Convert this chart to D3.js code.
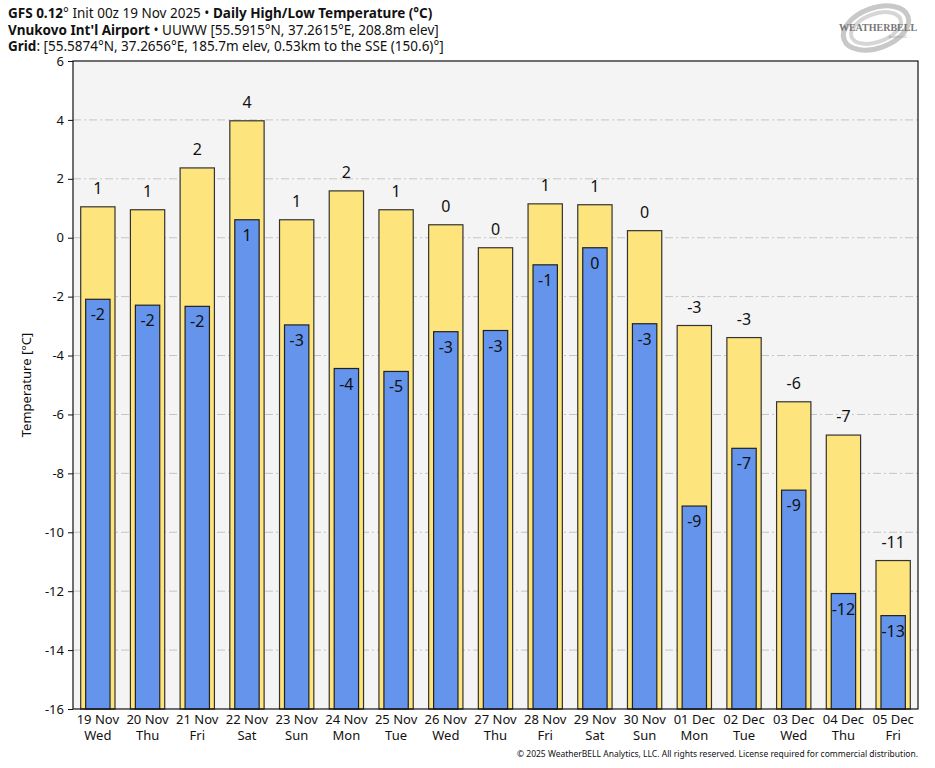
<!DOCTYPE html>
<html>
<head>
<meta charset="utf-8">
<script src="https://cdn.jsdelivr.net/npm/d3@7"></script>
<style>
  body { margin: 0; background: #fff; }
  text { font-family: "Noto Sans", "Open Sans", sans-serif; fill: #111; }
</style>
</head>
<body>
<div id="chart"></div>
<script>
// chart data
const dates = ['19 Nov', '20 Nov', '21 Nov', '22 Nov', '23 Nov', '24 Nov', '25 Nov', '26 Nov', '27 Nov',
  '28 Nov', '29 Nov', '30 Nov', '01 Dec', '02 Dec', '03 Dec', '04 Dec', '05 Dec'];
const weekdays = ['Wed', 'Thu', 'Fri', 'Sat', 'Sun', 'Mon', 'Tue', 'Wed', 'Thu',
  'Fri', 'Sat', 'Sun', 'Mon', 'Tue', 'Wed', 'Thu', 'Fri'];
const highs = [1.05, 0.95, 2.37, 3.97, 0.61, 1.59, 0.95, 0.44, -0.34,
  1.15, 1.12, 0.24, -2.98, -3.39, -5.57, -6.70, -10.96];
const lows = [-2.09, -2.29, -2.33, 0.61, -2.96, -4.44, -4.54, -3.19, -3.15,
  -0.92, -0.34, -2.92, -9.11, -7.15, -8.57, -12.08, -12.83];
const yTicks = [-16, -14, -12, -10, -8, -6, -4, -2, 0, 2, 4, 6];

const W = 935, H = 768;
const margin = { top: 61, right: 17, bottom: 59, left: 73 };
const width = W - margin.left - margin.right;
const height = H - margin.top - margin.bottom;

const svg = d3.select('#chart')
  .append('svg')
  .attr('width', W)
  .attr('height', H);

// title block
const title = svg.append('g').attr('transform', 'translate(8,0)');
const l1 = title.append('text').attr('y', 18).style('font-size', '13.5px');
l1.append('tspan').style('font-weight', 'bold').text('GFS 0.12');
l1.append('tspan').text('° Init 00z 19 Nov 2025 • ');
l1.append('tspan').style('font-weight', 'bold').text('Daily High/Low Temperature (°C)');
const l2 = title.append('text').attr('y', 35).style('font-size', '13.5px');
l2.append('tspan').style('font-weight', 'bold').text("Vnukovo Int'l Airport");
l2.append('tspan').text(' • UUWW [55.5915°N, 37.2615°E, 208.8m elev]');
const l3 = title.append('text').attr('y', 51).style('font-size', '13.5px');
l3.append('tspan').style('font-weight', 'bold').text('Grid');
l3.append('tspan').text(': [55.5874°N, 37.2656°E, 185.7m elev, 0.53km to the SSE (150.6)°]');

// logo (rough)
const logo = svg.append('g').attr('transform', 'translate(876,28)');
logo.append('ellipse').attr('rx', 34).attr('ry', 20).attr('fill', 'none')
  .attr('stroke', '#c8c8c8').attr('stroke-width', 5).attr('transform', 'rotate(-20)');
logo.append('ellipse').attr('rx', 26).attr('ry', 14).attr('fill', 'none')
  .attr('stroke', '#d6d6d6').attr('stroke-width', 4).attr('transform', 'rotate(-20)');
logo.append('text').attr('x', 2).attr('y', 3).attr('text-anchor', 'middle')
  .style('font-family', '"Liberation Serif", serif').style('font-size', '10px')
  .style('font-weight', 'bold').style('fill', '#777').text('WEATHERBELL');
logo.append('text').attr('x', 22).attr('y', 10).attr('text-anchor', 'middle')
  .style('font-size', '3px').style('fill', '#999').text('Analytics LLC');

const g = svg.append('g')
  .attr('transform', `translate(${margin.left},${margin.top})`);

const x = d3.scaleBand()
  .domain(dates)
  .range([0, width])
  .padding(0);

const y = d3.scaleLinear()
  .domain([-16, 6])
  .range([height, 0]);

// plot background
g.append('rect')
  .attr('width', width)
  .attr('height', height)
  .attr('fill', '#f4f4f4');

// grid lines
g.append('g')
  .selectAll('line')
  .data(yTicks.filter(t => t > -16 && t < 6))
  .join('line')
  .attr('x1', 0)
  .attr('x2', width)
  .attr('y1', d => y(d))
  .attr('y2', d => y(d))
  .attr('stroke', '#c4c4c4')
  .attr('stroke-width', 1)
  .attr('stroke-dasharray', '8,3,2,3');

const hiW = x.bandwidth() * 0.69;
const loW = x.bandwidth() * 0.49;

// highs (yellow)
g.append('g')
  .selectAll('rect')
  .data(highs)
  .join('rect')
  .attr('x', (d, i) => x(dates[i]) + (x.bandwidth() - hiW) / 2)
  .attr('y', d => y(d))
  .attr('width', hiW)
  .attr('height', d => y(-16) - y(d))
  .attr('fill', '#fee47c')
  .attr('stroke', '#333')
  .attr('stroke-width', 1.2);

// lows (blue)
g.append('g')
  .selectAll('rect')
  .data(lows)
  .join('rect')
  .attr('x', (d, i) => x(dates[i]) + (x.bandwidth() - loW) / 2)
  .attr('y', d => y(d))
  .attr('width', loW)
  .attr('height', d => y(-16) - y(d))
  .attr('fill', '#6494ec')
  .attr('stroke', '#222')
  .attr('stroke-width', 1.2);

const fmt = v => String(Math.round(v) === 0 ? 0 : Math.round(v));

// high labels
g.append('g')
  .selectAll('text')
  .data(highs)
  .join('text')
  .attr('x', (d, i) => x(dates[i]) + x.bandwidth() / 2)
  .attr('y', d => y(d) - 13)
  .attr('text-anchor', 'middle')
  .style('font-size', '16px')
  .text(fmt);

// low labels
g.append('g')
  .selectAll('text')
  .data(lows)
  .join('text')
  .attr('x', (d, i) => x(dates[i]) + x.bandwidth() / 2)
  .attr('y', d => y(d) + 21)
  .attr('text-anchor', 'middle')
  .style('font-size', '16px')
  .text(fmt);

// frame
g.append('rect')
  .attr('width', width)
  .attr('height', height)
  .attr('fill', 'none')
  .attr('stroke', '#111')
  .attr('stroke-width', 1.2);

// y axis
const yAxis = g.append('g')
  .call(d3.axisLeft(y).tickValues(yTicks).tickFormat(d => String(d)).tickSize(5).tickPadding(4));
yAxis.select('.domain').remove();
yAxis.selectAll('text').style('font-size', '13px').style('font-family', '"Noto Sans", sans-serif').attr('fill', '#111');
yAxis.selectAll('line').attr('stroke', '#111');

// x axis
const xAxis = g.append('g')
  .attr('transform', `translate(0,${height})`)
  .call(d3.axisBottom(x).tickSize(0).tickPadding(4));
xAxis.select('.domain').remove();
xAxis.selectAll('text').remove();
xAxis.selectAll('.tick').each(function(d, i) {
  const t = d3.select(this).append('text')
    .attr('text-anchor', 'middle')
    .style('font-size', '13px')
    .attr('fill', '#111');
  t.append('tspan').attr('x', 0).attr('y', 15).text(d);
  t.append('tspan').attr('x', 0).attr('y', 31).text(weekdays[i]);
});

// y label
g.append('text')
  .attr('transform', 'rotate(-90)')
  .attr('x', -height / 2)
  .attr('y', -margin.left + 31)
  .attr('text-anchor', 'middle')
  .style('font-size', '13px')
  .text('Temperature [°C]');

// copyright
svg.append('text')
  .attr('x', W - margin.right)
  .attr('y', 757)
  .attr('text-anchor', 'end')
  .style('font-size', '8.5px')
  .text('© 2025 WeatherBELL Analytics, LLC. All rights reserved. License required for commercial distribution.');
</script>
</body>
</html>
